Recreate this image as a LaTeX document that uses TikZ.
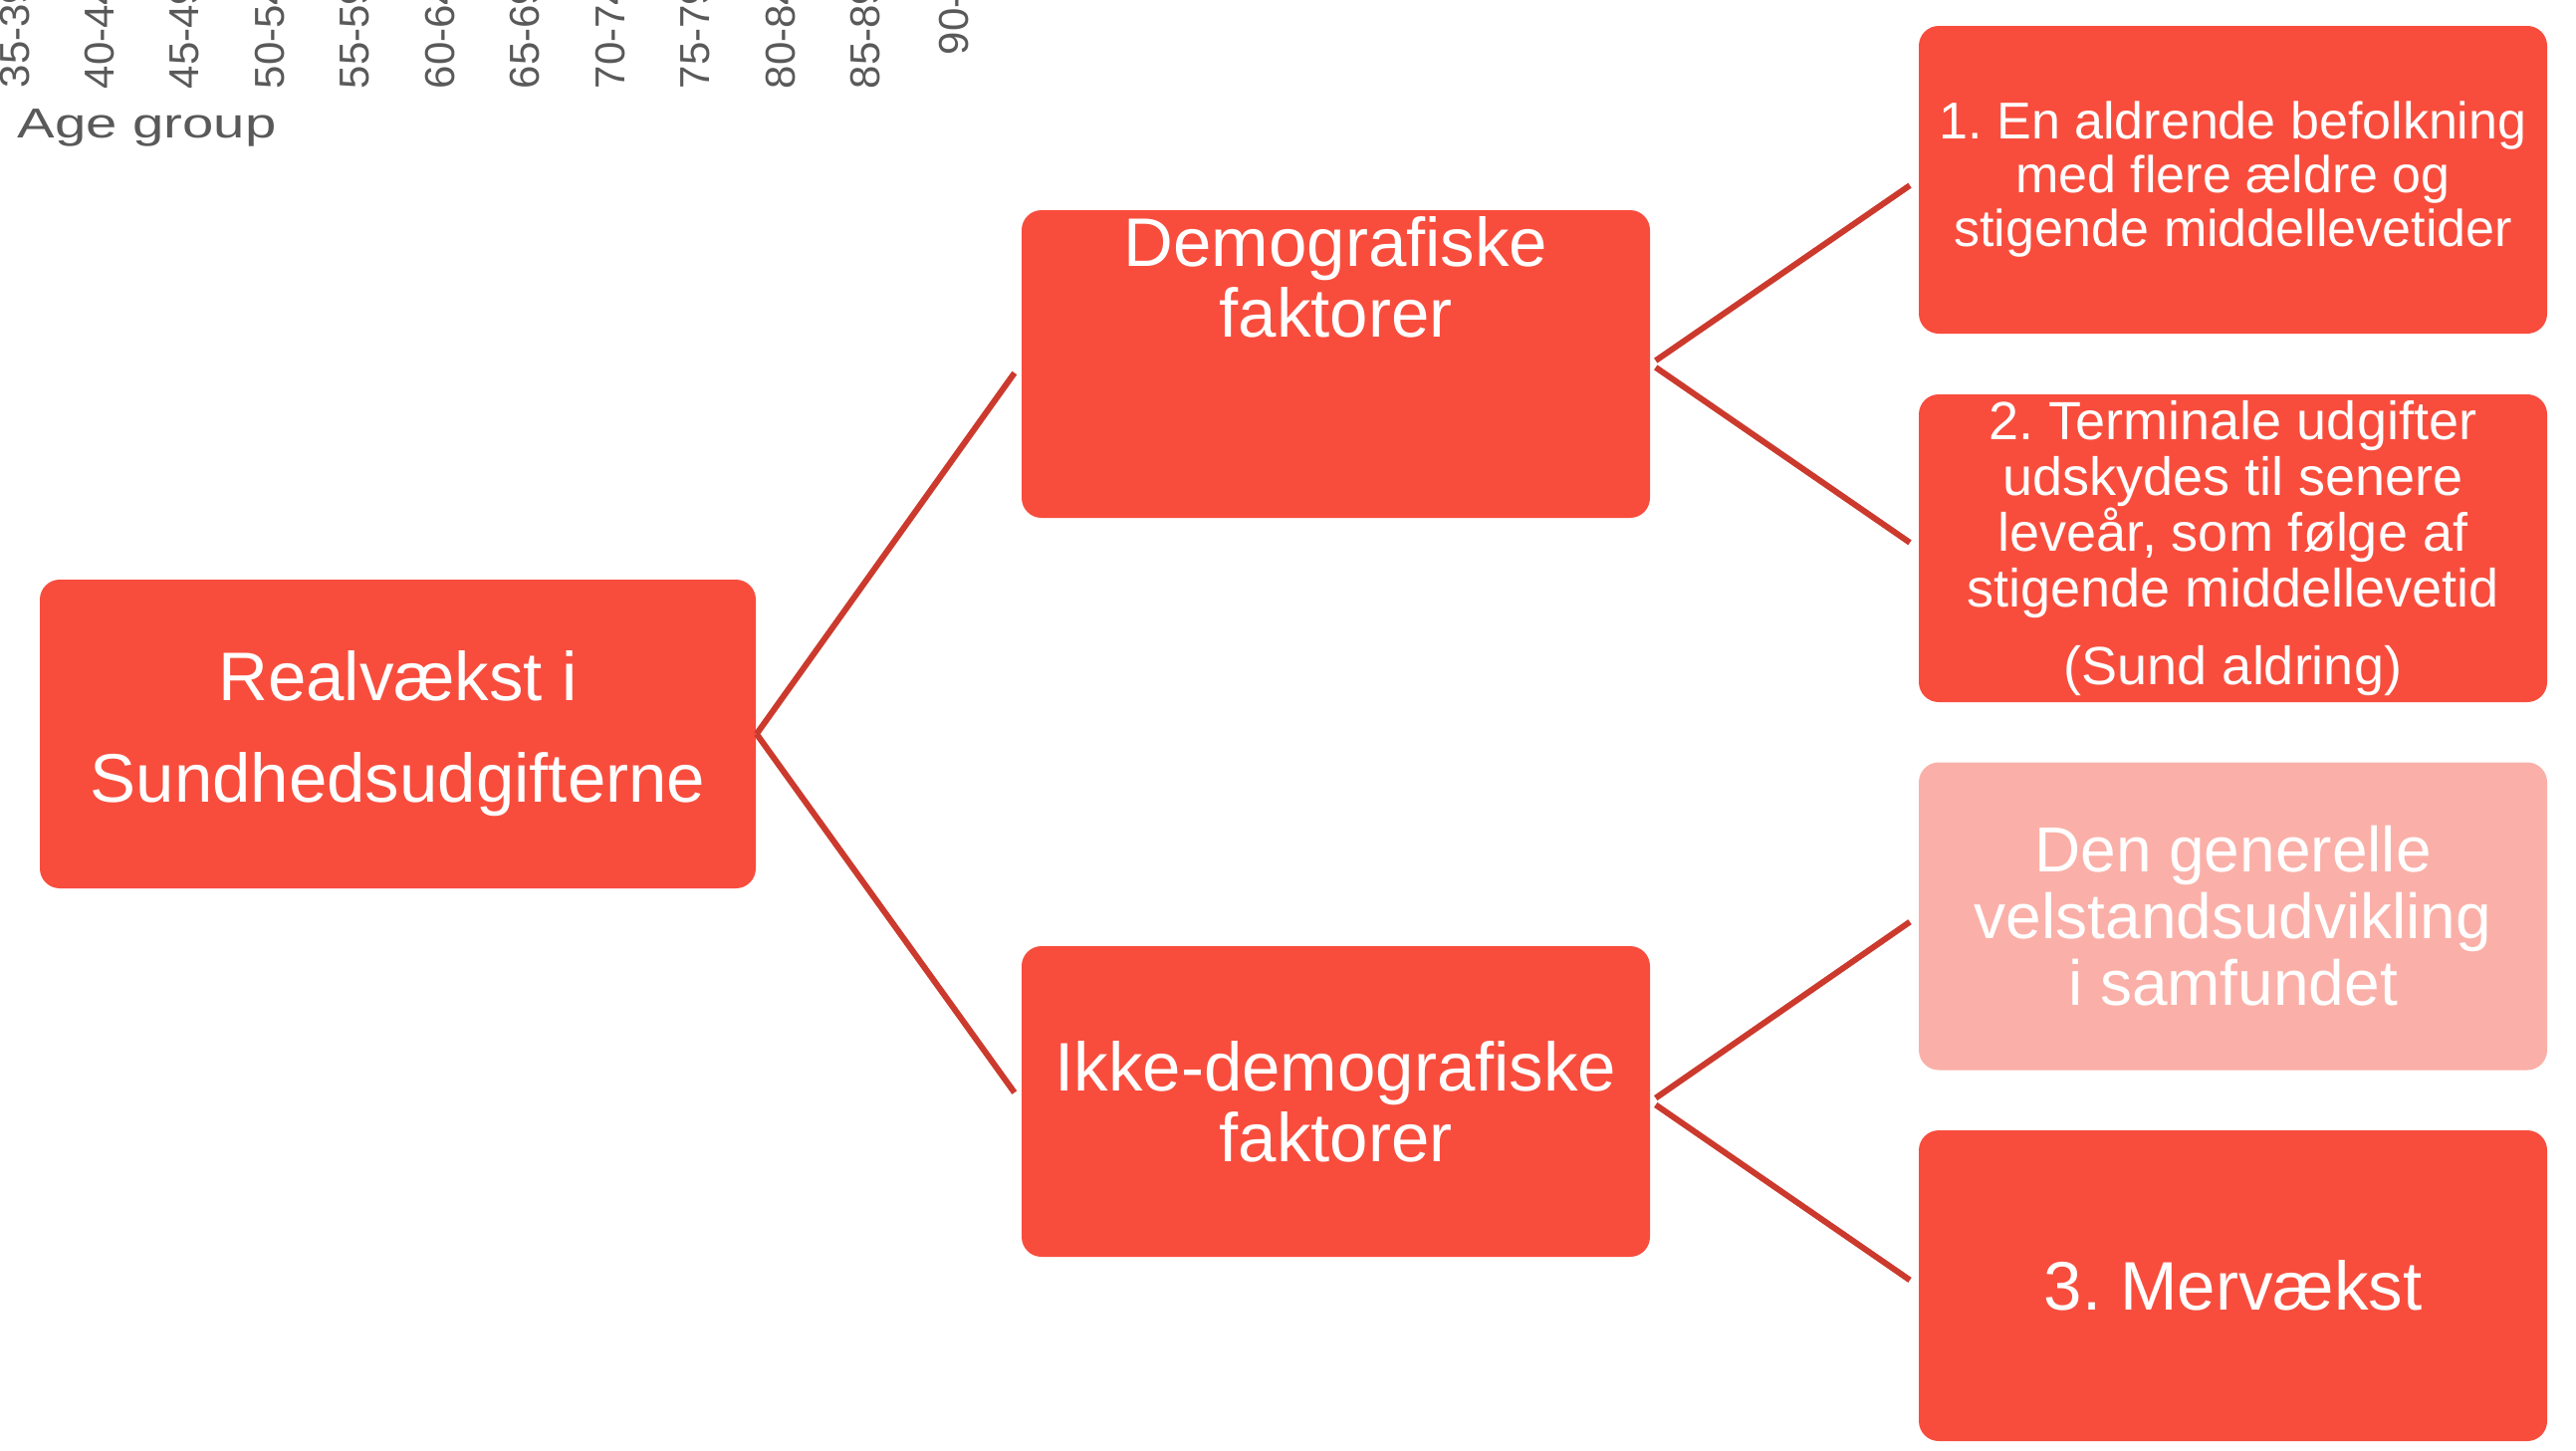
\documentclass[tikz,border=0pt]{standalone}
\usepackage{fontspec}
\setmainfont{Liberation Sans}
\frenchspacing
\definecolor{boxred}{HTML}{F84D3D}
\definecolor{boxpink}{HTML}{FAB0A8}
\definecolor{linered}{HTML}{CC3A2D}
\definecolor{axisgrey}{HTML}{595959}
\tikzset{
  box/.style={fill=boxred, rounded corners=5pt, minimum width=157.75pt,
    minimum height=77.25pt, text=white, align=center, inner sep=0pt},
  conn/.style={draw=linered, line width=1.5pt},
  agelbl/.style={rotate=90, anchor=west, inner sep=0pt, text=axisgrey,
    font=\fontsize{10.5pt}{12pt}\selectfont},
}
\begin{document}
\begin{tikzpicture}[x=0.25pt, y=-0.25pt]
\useasboundingbox (0,0) rectangle (2587,1456);
\clip (0,0) rectangle (2587,1456);
\fill[white] (0,0) rectangle (2587,1456);

% axis remnants
\node[agelbl] (a1) at (15,89) {35-39};
\node[agelbl] (a2) at (100,90) {40-44};
\node[agelbl] (a3) at (185,90) {45-49};
\node[agelbl] (a4) at (271,90) {50-54};
\node[agelbl] (a5) at (356,90) {55-59};
\node[agelbl] (a6) at (442,90) {60-64};
\node[agelbl] (a7) at (527,90) {65-69};
\node[agelbl] (a8) at (613,90) {70-74};
\node[agelbl] (a9) at (698,90) {75-79};
\node[agelbl] (a10) at (784,90) {80-84};
\node[agelbl] (a11) at (869,90) {85-89};
\node[agelbl] (a12) at (958,56) {90-};
\node[anchor=base west, inner sep=0pt, text=axisgrey,
  font=\fontsize{10.5pt}{12pt}\selectfont] (agegroup) at (17,138)
  {\scalebox{1.34}[1]{Age group}};

% boxes
\node[box, minimum width=179.75pt, minimum height=77.5pt,
  font=\fontsize{17.25pt}{25.5pt}\selectfont] (root) at (399.5,737)
  {Realvækst i\\Sundhedsudgifterne};
\node[box, font=\fontsize{17.25pt}{17.75pt}\selectfont] (demog) at (1341.5,365.5)
  {\begin{minipage}[c][77.25pt][t]{157.75pt}\centering\vspace*{1.5pt}Demografiske\\faktorer\end{minipage}};
\node[box, minimum height=78pt, font=\fontsize{17.25pt}{17.75pt}\selectfont] (ikke) at (1341.5,1106)
  {Ikke-demografiske\\faktorer};
\node[box, font=\fontsize{13pt}{13.5pt}\selectfont] (b1) at (2242.5,180.5)
  {1. En aldrende befolkning\\med flere ældre og\\stigende middellevetider};
\node[box, font=\fontsize{13.5pt}{14pt}\selectfont] (b2) at (2242.5,550.5)
  {2. Terminale udgifter\\udskydes til senere\\leveår, som følge af\\stigende middellevetid\\[5.4pt](Sund aldring)};
\node[box, fill=boxpink, font=\fontsize{16pt}{16.75pt}\selectfont] (den) at (2242.5,920)
  {Den generelle\\velstandsudvikling\\i samfundet};
\node[box, minimum height=78pt, font=\fontsize{17.25pt}{17.75pt}\selectfont] (b3) at (2242.5,1291)
  {3. Mervækst};

% connectors
\draw[conn, shorten >=2.75pt] (root.east) -- (demog.west);
\draw[conn, shorten >=2.75pt] (root.east) -- (ikke.west);
\draw[conn, shorten <=1.5pt, shorten >=2.5pt] (demog.east) -- (b1.west);
\draw[conn, shorten <=1.5pt, shorten >=2.5pt] (demog.east) -- (b2.west);
\draw[conn, shorten <=1.5pt, shorten >=2.5pt] (ikke.east) -- (den.west);
\draw[conn, shorten <=1.5pt, shorten >=2.5pt] (ikke.east) -- (b3.west);
\end{tikzpicture}
\end{document}
